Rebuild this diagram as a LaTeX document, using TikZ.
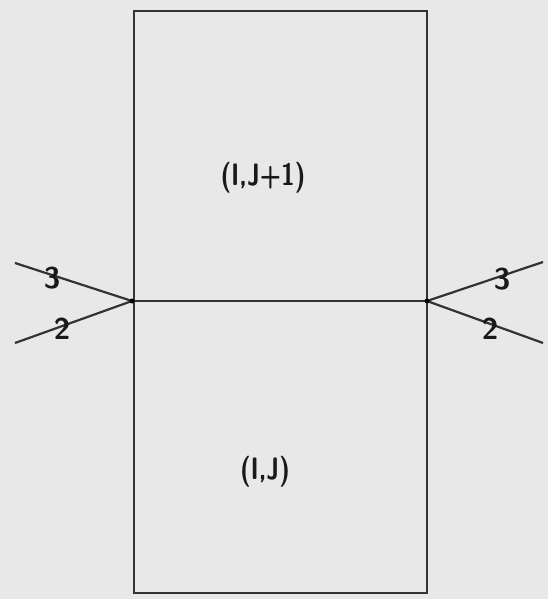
\documentclass[tikz,border=0pt]{standalone}
\begin{document}
\begin{tikzpicture}[x=1pt,y=-1pt,
  ln/.style={line width=2.2pt,draw=black!80},
  lbl/.style={inner sep=0pt,text=black!90,font=\fontsize{31}{34}\sffamily\bfseries},
  num/.style={inner sep=0pt,text=black!90,font=\fontsize{30}{34}\sffamily\bfseries}]
\fill[black!9] (0,0) rectangle (548,599);
\useasboundingbox (0,0) rectangle (548,599);
\coordinate (tl) at (134,11);
\coordinate (br) at (427,593);
\coordinate (jl) at (132,301);
\coordinate (jr) at (427,301);
\coordinate (lu) at (15,263);
\coordinate (ld) at (15,343);
\coordinate (ru) at (543,262);
\coordinate (rd) at (543,343);
\draw[ln] (tl) rectangle (br);
\draw[ln] (jl) -- (jr);
\draw[ln] (lu) -- (jl) -- (ld);
\draw[ln] (ru) -- (jr) -- (rd);
\fill[black] (jl) circle (2.5);
\fill[black] (jr) circle (2.5);
\node[lbl] (top) at (263,178) {\scalebox{0.8}[1]{(I,J+1)}};
\node[lbl] (bot) at (265,472) {\scalebox{0.8}[1]{(I,J)}};
\node[num] (l3) at (52,278) {3};
\node[num] (l2) at (62,329) {2};
\node[num] (r3) at (502,279) {3};
\node[num] (r2) at (490,329) {2};
\end{tikzpicture}
\end{document}
